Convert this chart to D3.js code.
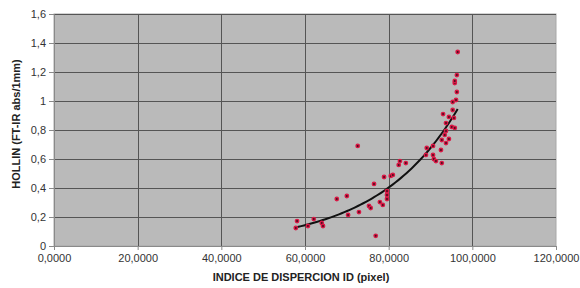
<!DOCTYPE html>
<html>
<head>
<meta charset="utf-8">
<script src="https://cdn.jsdelivr.net/npm/d3@7"></script>
<style>
  body { margin: 0; background: #fff; }
  text { font-family: "Liberation Sans", Arial, sans-serif; }
</style>
</head>
<body>
<div id="chart"></div>
<script>
// data
var idValues = [57800, 58100, 60700, 62100, 64000, 64300, 67600, 70000, 70300, 72600,
    72900, 75300, 75700, 76500, 76900, 77900, 78600, 78900, 79600, 79600,
    79600, 80500, 81000, 82400, 82700, 84100, 88900, 89100, 90600, 90600,
    90800, 91300, 92700, 92500, 92700, 93400, 93700, 94400, 93000, 93700,
    94400, 95100, 95600, 95800, 95300, 95300, 96100, 96300, 95800, 95800,
    96300, 96500, 93700];
var hollinValues = [0.124, 0.172, 0.138, 0.186, 0.159, 0.138, 0.324, 0.345, 0.214, 0.69,
    0.234, 0.276, 0.262, 0.428, 0.07, 0.303, 0.283, 0.476, 0.379, 0.352,
    0.324, 0.483, 0.49, 0.559, 0.586, 0.572, 0.628, 0.676, 0.69, 0.628,
    0.6, 0.586, 0.572, 0.662, 0.731, 0.766, 0.71, 0.738, 0.91, 0.848,
    0.89, 0.821, 0.883, 0.814, 0.938, 0.993, 1.007, 1.062, 1.124, 1.138,
    1.179, 1.338, 0.793];

var xTicks = [0, 20000, 40000, 60000, 80000, 100000, 120000];
var xTickLabels = ["0,0000", "20,0000", "40,0000", "60,0000", "80,0000", "100,0000", "120,0000"];
var yTicks = [0, 0.2, 0.4, 0.6, 0.8, 1, 1.2, 1.4, 1.6];
var yTickLabels = ["0", "0,2", "0,4", "0,6", "0,8", "1", "1,2", "1,4", "1,6"];

var svgWidth = 580;
var svgHeight = 288;
var margin = { top: 14, right: 24, bottom: 42, left: 54 };
var width = svgWidth - margin.left - margin.right;
var height = svgHeight - margin.top - margin.bottom;

var svg = d3.select("#chart").append("svg")
    .attr("width", svgWidth)
    .attr("height", svgHeight);

var chartGroup = svg.append("g")
    .attr("transform", `translate(${margin.left}, ${margin.top})`);

var xScale = d3.scaleLinear().domain([0, 120000]).range([0, width]);
var yScale = d3.scaleLinear().domain([0, 1.6]).range([height, 0]);

// plot background
chartGroup.append("rect")
    .attr("width", width)
    .attr("height", height)
    .attr("fill", "#bababa")
    .attr("stroke", "#a8a8a8");

// gridlines
chartGroup.append("g").selectAll("line")
    .data(yTicks.slice(1))
    .enter().append("line")
    .attr("x1", 0).attr("x2", width)
    .attr("y1", d => Math.round(yScale(d)) + 0.5)
    .attr("y2", d => Math.round(yScale(d)) + 0.5)
    .attr("stroke", "#555");

chartGroup.append("g").selectAll("line")
    .data(xTicks.slice(1, -1))
    .enter().append("line")
    .attr("y1", 0).attr("y2", height)
    .attr("x1", d => Math.round(xScale(d)) + 0.5)
    .attr("x2", d => Math.round(xScale(d)) + 0.5)
    .attr("stroke", "#555");

// axes
var bottomAxis = d3.axisBottom(xScale)
    .tickValues(xTicks)
    .tickFormat((d, i) => xTickLabels[i])
    .tickSize(4)
    .tickPadding(4);
var leftAxis = d3.axisLeft(yScale)
    .tickValues(yTicks)
    .tickFormat((d, i) => yTickLabels[i])
    .tickSize(5)
    .tickPadding(3);

var xAxis = chartGroup.append("g")
    .attr("transform", `translate(0, ${height})`)
    .call(bottomAxis);
var yAxis = chartGroup.append("g")
    .call(leftAxis);

[xAxis, yAxis].forEach(function (ax) {
    ax.select(".domain").attr("stroke", "#8a8a8a");
    ax.selectAll(".tick line").attr("stroke", "#8a8a8a");
    ax.selectAll(".tick text")
        .attr("fill", "#333")
        .style("font-size", "11px");
});

// exponential trend line, least squares on ln(y) like the spreadsheet does
var mx = d3.mean(idValues);
var ly = hollinValues.map(v => Math.log(v));
var my = d3.mean(ly);
var sxy = d3.sum(idValues, (v, i) => (v - mx) * (ly[i] - my));
var sxx = d3.sum(idValues, v => (v - mx) * (v - mx));
var b = sxy / sxx;
var a = Math.exp(my - b * mx);
var xMin = d3.min(idValues), xMax = d3.max(idValues);
var trend = d3.range(0, 61).map(i => xMin + (xMax - xMin) * i / 60);

chartGroup.append("path")
    .datum(trend)
    .attr("fill", "none")
    .attr("stroke", "#111")
    .attr("stroke-width", 2)
    .attr("d", d3.line().x(d => xScale(d)).y(d => yScale(a * Math.exp(b * d))));

// points
var pts = chartGroup.append("g").selectAll("g")
    .data(idValues.map((v, i) => ({ x: v, y: hollinValues[i] })))
    .enter().append("g")
    .attr("transform", d => `translate(${xScale(d.x)}, ${yScale(d.y)})`);
pts.append("circle").attr("r", 2.4).attr("fill", "#d81845");
pts.append("circle").attr("r", 1).attr("fill", "#4a0d1c");

// axis titles
svg.append("text")
    .attr("x", margin.left + xScale(60000) - 4)
    .attr("y", 281)
    .attr("text-anchor", "middle")
    .style("font-size", "11px")
    .style("font-weight", "bold")
    .attr("fill", "#222")
    .text("INDICE DE DISPERCION ID (pixel)");

svg.append("text")
    .attr("transform", `translate(20, ${margin.top + height / 2 - 6}) rotate(-90)`)
    .attr("text-anchor", "middle")
    .style("font-size", "11px")
    .style("font-weight", "bold")
    .attr("fill", "#222")
    .text("HOLLIN  (FT-IR abs/1mm)");
</script>
</body>
</html>
